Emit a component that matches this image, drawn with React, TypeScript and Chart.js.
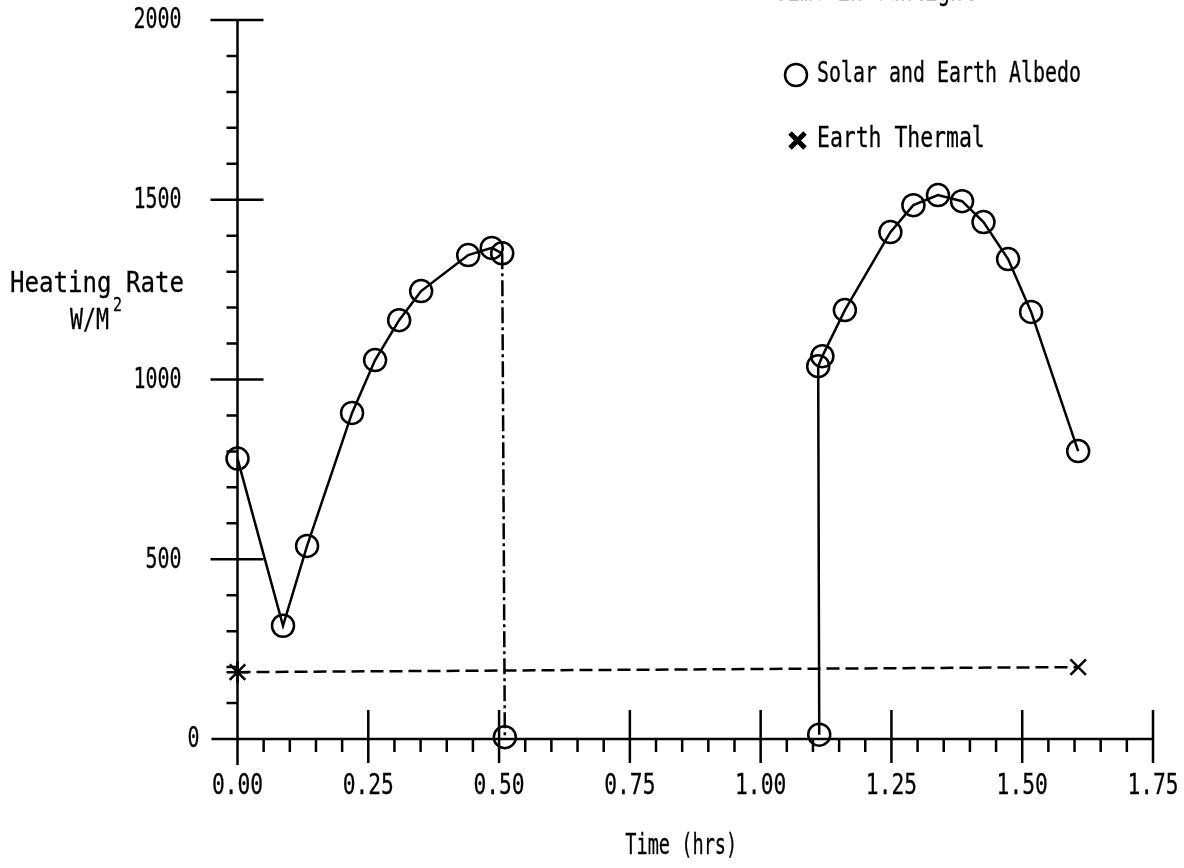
import React, { useEffect, useRef } from "react";
import { Chart, registerables } from "chart.js";

Chart.register(...registerables);

// ---- data ----
const albedoTime = [0.0, 0.087, 0.133, 0.219, 0.263, 0.309, 0.351, 0.441, 0.486, 0.506, 0.511, 0.8, 1.112, 1.11, 1.118, 1.161, 1.248, 1.292, 1.339, 1.385, 1.426, 1.473, 1.517, 1.607];
const albedoRate = [780, 315, 537, 907, 1054, 1165, 1246, 1346, 1366, 1351, 5, null, 12, 1037, 1065, 1193, 1410, 1485, 1513, 1496, 1438, 1335, 1188, 801];

const thermalTime = [0.0, 1.607];
const thermalRate = [186, 200];

const xMajorTicks = [0, 0.25, 0.5, 0.75, 1.0, 1.25, 1.5, 1.75];
const xTickLabels = ["0.00", "0.25", "0.50", "0.75", "1.00", "1.25", "1.50", "1.75"];
const xMinorTicks = [0.05, 0.1, 0.15, 0.2, 0.3, 0.35, 0.4, 0.45, 0.55, 0.6, 0.65, 0.7, 0.8, 0.85, 0.9, 0.95, 1.05, 1.1, 1.15, 1.2, 1.3, 1.35, 1.4, 1.45, 1.55, 1.6, 1.65, 1.7];
const yMajorTicks = [0, 500, 1000, 1500, 2000];
const yTickLabels = ["0", "500", "1000", "1500", "2000"];
const yMinorTicks = [100, 200, 300, 400, 600, 700, 800, 900, 1100, 1200, 1300, 1400, 1600, 1700, 1800, 1900];

const seriesNames = ["Solar and Earth Albedo", "Earth Thermal"];
const xTitle = "Time (hrs)";
const yTitle = "Heating Rate";
const yUnit = "W/M";
const topTitle = "Time in Sunlight";

const FONT = '"DejaVu Sans Mono", "Liberation Mono", monospace';

function drawText(
  ctx: CanvasRenderingContext2D,
  s: string,
  x: number,
  y: number,
  align: CanvasTextAlign,
  charW: number,
  size = 28
) {
  ctx.save();
  ctx.font = `${size}px ${FONT}`;
  const natural = ctx.measureText(s).width || 1;
  const sx = (charW * s.length) / natural;
  ctx.translate(x, y);
  ctx.scale(sx, 1);
  ctx.textAlign = align;
  ctx.textBaseline = "middle";
  ctx.fillStyle = "#000";
  ctx.strokeStyle = "#000";
  ctx.lineWidth = 0.3;
  ctx.fillText(s, 0, 0);
  ctx.strokeText(s, 0, 0);
  ctx.restore();
}

const axesPlugin = {
  id: "plotterAxes",
  beforeDatasetsDraw(chart: any) {
    const ctx: CanvasRenderingContext2D = chart.ctx;
    const xs = chart.scales.x;
    const ys = chart.scales.y;
    const x0 = xs.getPixelForValue(0);
    const y0 = ys.getPixelForValue(0);
    ctx.save();
    ctx.strokeStyle = "#000";
    ctx.lineWidth = 2.5;
    ctx.lineCap = "butt";
    ctx.beginPath();
    // y axis line
    ctx.moveTo(x0, ys.getPixelForValue(2000));
    ctx.lineTo(x0, y0 + 26);
    // x axis line
    ctx.moveTo(x0 - 26, y0);
    ctx.lineTo(xs.getPixelForValue(1.75), y0);
    // y major ticks (both sides)
    yMajorTicks.forEach((v) => {
      if (v === 0) return;
      const py = ys.getPixelForValue(v);
      ctx.moveTo(x0 - 27, py);
      ctx.lineTo(x0 + 26, py);
    });
    // y minor ticks (left)
    yMinorTicks.forEach((v) => {
      const py = ys.getPixelForValue(v);
      ctx.moveTo(x0 - 11, py);
      ctx.lineTo(x0, py);
    });
    // x major ticks (both sides)
    xMajorTicks.forEach((v) => {
      if (v === 0) return;
      const px = xs.getPixelForValue(v);
      ctx.moveTo(px, y0 - 29);
      ctx.lineTo(px, y0 + 24);
    });
    // x minor ticks (below)
    xMinorTicks.forEach((v) => {
      const px = xs.getPixelForValue(v);
      ctx.moveTo(px, y0);
      ctx.lineTo(px, y0 + 13);
    });
    ctx.stroke();

    // tick labels
    xMajorTicks.forEach((v, i) => {
      drawText(ctx, xTickLabels[i], xs.getPixelForValue(v), y0 + 48, "center", 12.8);
    });
    yMajorTicks.forEach((v, i) => {
      const py = ys.getPixelForValue(v);
      const right = v === 0 ? x0 - 38 : x0 - 56;
      drawText(ctx, yTickLabels[i], right, py + 1, "right", 12);
    });

    // axis titles
    drawText(ctx, xTitle, (xs.left + xs.right) / 2 - 14, y0 + 108, "center", 11.2);
    drawText(ctx, yTitle, 10, 285, "left", 14.5);
    drawText(ctx, yUnit, 70, 322, "left", 13);
    drawText(ctx, "2", 113, 306, "left", 9, 19);

    // cut-off title at top
    drawText(ctx, topTitle, 975, -7, "right", 12.5);

    // legend
    ctx.lineWidth = 2.5;
    ctx.beginPath();
    ctx.arc(796, 75, 11, 0, Math.PI * 2);
    ctx.stroke();
    drawText(ctx, seriesNames[0], 817, 75, "left", 12);
    ctx.lineWidth = 5;
    ctx.beginPath();
    ctx.moveTo(790, 133);
    ctx.lineTo(805, 148);
    ctx.moveTo(805, 133);
    ctx.lineTo(790, 148);
    ctx.stroke();
    drawText(ctx, seriesNames[1], 817, 140, "left", 12.9);
    ctx.restore();
  },
};

export default function App() {
  const ref = useRef<HTMLCanvasElement>(null);
  useEffect(() => {
    document.body.style.margin = "0";
    const canvas = ref.current;
    if (!canvas) return;
    const chart = new Chart(canvas, {
      type: "scatter",
      data: {
        datasets: [
          {
            label: seriesNames[0],
            data: albedoTime.map((t, i) => ({ x: t, y: albedoRate[i] as any })),
            showLine: true,
            spanGaps: false,
            borderColor: "#000",
            borderWidth: 2.5,
            pointStyle: "circle",
            pointRadius: 11,
            pointBorderWidth: 2.5,
            pointBorderColor: "#000",
            pointBackgroundColor: "rgba(0,0,0,0)",
            clip: false as any,
            segment: {
              borderDash: (c: any) => (c.p0DataIndex === 9 ? [16, 4, 3, 4] : undefined),
            },
          } as any,
          {
            label: seriesNames[1],
            data: thermalTime.map((t, i) => ({ x: t, y: thermalRate[i] })),
            showLine: true,
            borderColor: "#000",
            borderWidth: 2.5,
            borderDash: [13, 6],
            pointStyle: ["star", "crossRot"] as any,
            pointRadius: 11,
            pointBorderWidth: 2.5,
            pointBorderColor: "#000",
            pointBackgroundColor: "rgba(0,0,0,0)",
            clip: false as any,
          } as any,
        ],
      },
      options: {
        responsive: false,
        animation: false,
        devicePixelRatio: 1,
        layout: { padding: { left: 237.5, right: 31, top: 20, bottom: 129 } },
        scales: {
          x: { type: "linear", min: 0, max: 1.75, display: false },
          y: { type: "linear", min: 0, max: 2000, display: false },
        },
        plugins: {
          legend: { display: false },
          tooltip: { enabled: false },
        },
      },
      plugins: [axesPlugin],
    });
    return () => chart.destroy();
  }, []);
  return (
    <canvas
      ref={ref}
      width={1184}
      height={868}
      style={{ display: "block", width: 1184, height: 868, background: "#fff" }}
    />
  );
}
